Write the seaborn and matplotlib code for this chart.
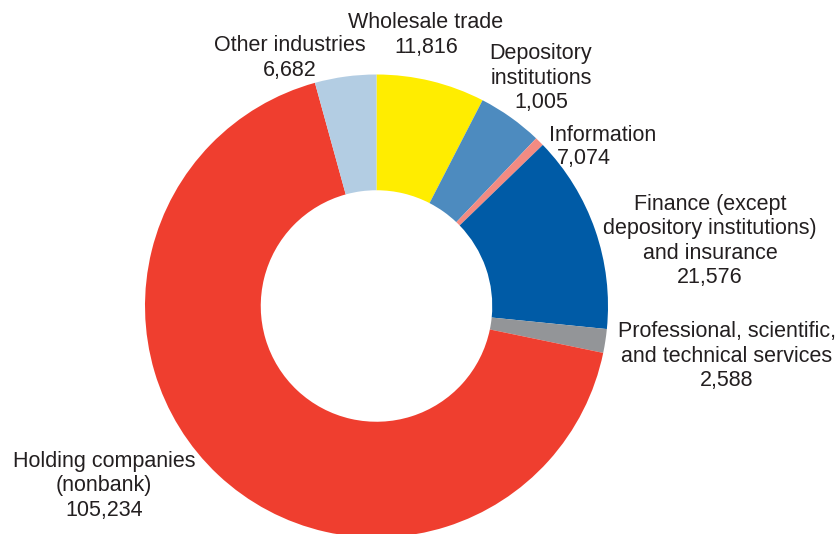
import matplotlib
matplotlib.use("Agg")
import matplotlib.pyplot as plt
import seaborn as sns

sns.set_style("white")
plt.rcParams['font.family'] = ['Liberation Sans', 'DejaVu Sans']

categories = ["Wholesale trade", "Information", "Depository institutions",
              "Finance (except depository institutions) and insurance",
              "Professional, scientific, and technical services",
              "Holding companies (nonbank)", "Other industries"]
values = [11816, 7074, 1005, 21576, 2588, 105234, 6682]
label_texts = ["Wholesale trade\n11,816",
               "Information",
               "Depository\ninstitutions\n1,005",
               "Finance (except\ndepository institutions)\nand insurance\n21,576",
               "Professional, scientific,\nand technical services\n2,588",
               "Holding companies\n(nonbank)\n105,234",
               "Other industries\n6,682"]
extra_texts = ["7,074"]
colors = ["#FFED00", "#4D8BBF", "#F28B82", "#005BA6", "#939598", "#EF3E2F", "#B3CDE3"]
# label centre positions in pixels (x, y from top)
label_pos = [(426, 35), (603, 135), (541, 78), (710, 241), (727, 356), (104, 486), (290, 58)]
extra_pos = [(584, 158)]

W, H = 838, 534
fig = plt.figure(figsize=(W / 100, H / 100), dpi=100)
cx, cy, r = 376.5, 306, 231.5
ax = fig.add_axes([(cx - r) / W, (H - cy - r) / H, 2 * r / W, 2 * r / H])
ax.pie(values, colors=colors, startangle=90, counterclock=False, radius=1,
       wedgeprops=dict(width=0.5, linewidth=0))
ax.set_xlim(-1, 1)
ax.set_ylim(-1, 1)
ax.set_aspect("equal")
ax.axis("off")

for txt, (px, py) in zip(label_texts + extra_texts, label_pos + extra_pos):
    fig.text(px / W, 1 - py / H, txt, ha="center", va="center", fontsize=15.5,
             color="#231F20", linespacing=1.2)

fig.savefig("out.png", dpi=100)
